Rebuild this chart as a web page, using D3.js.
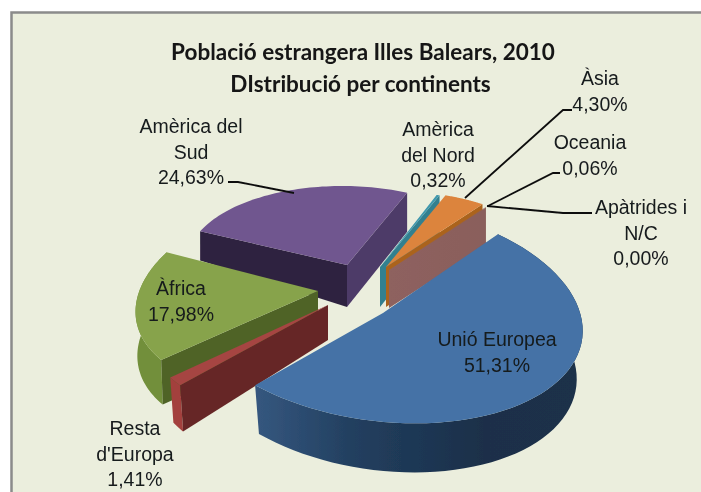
<!DOCTYPE html>
<html><head><meta charset="utf-8">
<script src="https://cdn.jsdelivr.net/npm/d3@7"></script>
<style>html,body{margin:0;padding:0;background:#fff}svg{display:block}</style>
</head><body><div id="chart"></div>
<script>
const categories = ["Unió Europea","Resta d'Europa","Àfrica","Amèrica del Sud","Amèrica del Nord","Àsia","Oceania","Apàtrides i N/C"];
const values = [51.31,1.41,17.98,24.63,0.32,4.30,0.06,0.00];
const valueLabels = ["51,31%","1,41%","17,98%","24,63%","0,32%","4,30%","0,06%","0,00%"];
const titleLines = ["Població estrangera Illes Balears, 2010","DIstribució per continents"];

// drawing layout (not data)
const W=701,H=492, startDeg=40;
const apex=[[383,313],[328,305],[318,291],[347,265],[380,267],[386,267],[389,270],[389,270]];
const axes=[[199,17,8.5,110],[188,-22,4,117],[180,-30,-4,102],[160,3,1,79],[158,6,-8,75],[158,6,-8,75],[158,6,-8,75],[158,6,-8,75]];
// wall: depth at apex, x scale, y scale, y shear
const wall=[[48,.97,1.01,0],[35,.98,1.14,0],[44,.99,1.01,0],[42,1,1.097,.066],[40,1,1.03,0],[40,1,1.03,0],[38,1,1.0,0],[38,1,1.0,0]];
const topFill=["#4472a6","#a64442","#87a34b","#70568f","#3f98ad","#dc843c","#8b605c","#8b605c"];
const rimFill=["url(#blueRim)","#a33f3c","#728f3a","#4d3a68","#33808f","#b0651f","#8b605c","#8b605c"];
const startWall=["none","#662826","#4f6428","#2f2340","none","none","none","none"];
const endWall=["none","none","none","#4d3a68","#33808f","#ab641f","url(#pinkWall)","none"];
const labelLines=[["Unió Europea"],["Resta","d'Europa"],["Àfrica"],["Amèrica del","Sud"],["Amèrica","del Nord"],["Àsia"],["Oceania"],["Apàtrides i","N/C"]];
const labelPos=[[497,346],[135,435],[181,295],[191,133],[438,136],[600,85],[590,149],[641,214]];
const leaders=[null,null,null,[[228,182],[238,182],[294,193]],null,[[572,110],[563,110],[465,198]],[[560,173],[553,173],[488,206]],[[592,213],[563,213],[487,206]]];
const drawOrder=[3,4,5,6,2,1,0];

const svg=d3.select("#chart").append("svg").attr("width",W).attr("height",H).attr("viewBox",`0 0 ${W} ${H}`);
const defs=svg.append("defs");
const grad=(id,stops)=>{const g=defs.append("linearGradient").attr("id",id);stops.forEach(s=>g.append("stop").attr("offset",s[0]).attr("stop-color",s[1]));};
grad("blueRim",[[0,"#35577f"],[.3,"#223f5f"],[.7,"#1a2f49"],[1,"#1c3048"]]);
grad("pinkWall",[[0,"#8e625f"],[1,"#8a5e5b"]]);
defs.append("filter").attr("id","soft").attr("filterUnits","userSpaceOnUse").attr("x",0).attr("y",0).attr("width",W).attr("height",H)
  .append("feGaussianBlur").attr("stdDeviation",0.45);

svg.append("rect").attr("width",W).attr("height",H).attr("fill","#fff");
svg.append("rect").attr("x",11.5).attr("y",12.5).attr("width",W-11.5).attr("height",H-12.5).attr("fill","#ebeedd");
svg.append("path").attr("d",`M11.5,${H}V12.5H${W}`).attr("fill","none").attr("stroke","#8b8b8b").attr("stroke-width",2.5);

const chart=svg.append("g").attr("filter","url(#soft)");
const pie=d3.pie().sort(null).value(d=>d).startAngle(startDeg*Math.PI/180).endAngle(startDeg*Math.PI/180+2*Math.PI);
const arcs=pie(values);
const line=d3.line();
const topPt=(i,t)=>{const A=axes[i],s=Math.sin(t),c=-Math.cos(t);return [A[0]*s+A[1]*c,A[2]*s+A[3]*c];};
const P=(i,t)=>{const o=topPt(i,t);return [apex[i][0]+o[0],apex[i][1]+o[1]];};
const B=(i,t)=>{const o=topPt(i,t),w=wall[i];return [apex[i][0]+w[1]*o[0],apex[i][1]+w[0]+w[2]*o[1]+w[3]*o[0]];};
const ts=a=>d3.range(0,61).map(k=>a.startAngle+(a.endAngle-a.startAngle)*k/60);

drawOrder.forEach(i=>{
  const a=arcs[i],g=chart.append("g"),T=ts(a),ap=apex[i],w=wall[i],apB=[ap[0],ap[1]+w[0]];
  if(rimFill[i]!=="none"&&i<3) g.append("path").attr("d",line(T.map(t=>P(i,t)).concat(T.slice().reverse().map(t=>B(i,t))))+"Z").attr("fill",rimFill[i]);
  if(endWall[i]!=="none") g.append("path").attr("d",line([ap,P(i,a.endAngle),B(i,a.endAngle),apB])+"Z").attr("fill",endWall[i]);
  if(startWall[i]!=="none") g.append("path").attr("d",line([ap,P(i,a.startAngle),B(i,a.startAngle),apB])+"Z").attr("fill",startWall[i]);
  g.append("path").attr("d",line([ap].concat(T.map(t=>P(i,t))))+"Z").attr("fill",topFill[i]);
});

chart.append("g").selectAll("path").data(leaders.filter(Boolean)).join("path")
  .attr("d",d=>line(d)).attr("fill","none").attr("stroke","#111").attr("stroke-width",1.8);

const lab=chart.append("g").attr("font-family","'Liberation Sans',Arial,sans-serif").attr("font-size",19.5).attr("fill","#161a1c").attr("text-anchor","middle");
categories.forEach((c,i)=>{
  labelLines[i].concat([valueLabels[i]]).forEach((t,k)=>{
    lab.append("text").attr("x",labelPos[i][0]).attr("y",labelPos[i][1]+k*25.6).text(t);
  });
});
const ttl=chart.append("g").attr("font-family","Lato,sans-serif").attr("font-weight",700).attr("font-size",22.5).attr("fill","#141414").attr("text-anchor","middle");
titleLines.forEach((t,k)=>ttl.append("text").attr("x",k?360.5:363).attr("y",60+k*32).text(t));
</script></body></html>
